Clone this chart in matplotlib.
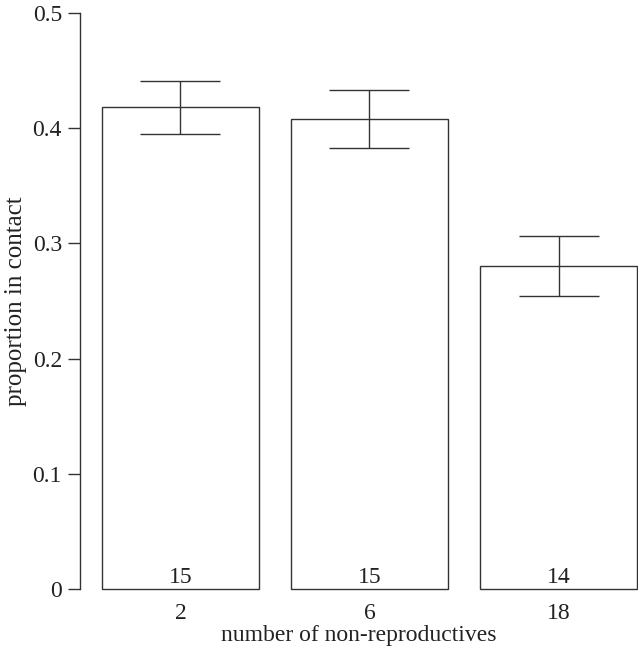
import numpy as np
import matplotlib
matplotlib.use('Agg')
import matplotlib.pyplot as plt

# proportion in contact by group size (mean +/- se), n per group
groups = ['2', '6', '18']
means = [0.418, 0.408, 0.280]
errors = [0.023, 0.025, 0.026]
counts = [15, 15, 14]

plt.rcParams['font.family'] = ['Liberation Serif', 'DejaVu Serif']
plt.rcParams['font.size'] = 17

W, H = 638, 655
fig = plt.figure(figsize=(W / 100, H / 100), dpi=100)
ax = fig.add_axes([80 / W, (H - 589) / H, (W - 80) / W, (589 - 13) / H])

line_col = '#333333'
x = np.arange(len(groups))

ax.bar(x, means, width=0.831, color='white', edgecolor=line_col, linewidth=1.0, clip_on=False)
ax.errorbar(x, means, yerr=errors, fmt='none', ecolor=line_col, elinewidth=1.0,
            capsize=28.8, capthick=1.0, clip_on=False)

for xi, n in zip(x, counts):
    ax.text(xi, 0.005, str(n), ha='center', va='baseline', fontsize=17, color='#222222')

ax.set_xlim(-0.5317, 2.4206)
ax.set_ylim(0, 0.5)
ax.set_yticks([0, 0.1, 0.2, 0.3, 0.4, 0.5])
ax.set_yticklabels(['0', '0.1', '0.2', '0.3', '0.4', '0.5'])
ax.set_xticks(x)
ax.set_xticklabels(groups)

for s in ['top', 'right', 'bottom']:
    ax.spines[s].set_visible(False)
ax.spines['left'].set_color(line_col)
ax.spines['left'].set_linewidth(1.0)
ax.spines['left'].set_bounds(0, 0.5)

ax.tick_params(axis='y', length=9, width=1.0, color=line_col, pad=4, labelcolor='#222222')
ax.tick_params(axis='x', length=0, pad=10, labelcolor='#222222')

ax.set_xlabel('number of non-reproductives', color='#222222', labelpad=1)
ax.set_ylabel('proportion in contact', color='#222222', fontsize=18, labelpad=4)

fig.savefig('out.png', dpi=100)
